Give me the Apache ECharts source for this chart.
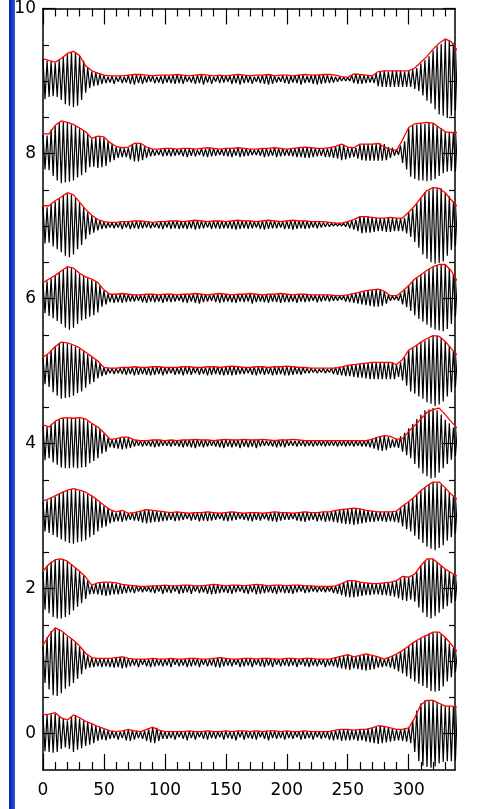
<!DOCTYPE html>
<html><head><meta charset="utf-8">
<script src="https://cdn.jsdelivr.net/npm/echarts@6/dist/echarts.min.js"></script>
<style>html,body{margin:0;padding:0;background:#fff;}#c{width:480px;height:809px;}</style>
</head><body><div id="c"></div>
<script>
const xMajorTicks = [0,50,100,150,200,250,300];
const xMinorTicks = [10,20,30,40,60,70,80,90,110,120,130,140,160,170,180,190,210,220,230,240,260,270,280,290,310,320,330];
const yMajorTicks = [0,2,4,6,8,10];
const yMinorTicks = [0.5,1,1.5,2.5,3,3.5,4.5,5,5.5,6.5,7,7.5,8.5,9,9.5];
const traceOffsets = [0,1,2.01,3.01,4.02,5.02,6.02,7.03,8.03,9.04];
const envStep = 5;
const sigStep = 5/3;

// red envelopes (hundredths of a y unit), sampled every 5 x units, trace 0 = bottom
const env0 = [26,27,29,22,19,26,22,17,14,10, 7,4,3,4,6,4,3,6,9,5, 3,3,3,3,4,3,3,4,3,3, 4,3,4,4,3,4,3,4,4,3, 4,3,3,4,3,3,3,3,5,6, 6,5,6,6,8,11,10,8,6,6, 8,22,40,46,46,42,38,38,37];
const env1 = [22,36,46,42,35,29,21,11,5,4, 4,4,5,6,4,3,3,3,4,3, 3,4,3,3,4,4,3,3,4,5, 4,3,3,4,4,3,4,4,3,3, 4,4,3,4,4,3,3,3,5,7, 9,6,8,10,8,6,3,6,10,15, 21,27,32,36,40,40,33,23,13];
const env2 = [23,33,39,40,37,30,23,15,4,7, 8,8,7,5,4,3,2,2,3,3, 4,3,3,4,4,3,3,4,5,4, 3,4,4,3,4,5,4,3,4,4, 3,4,4,3,3,2,2,2,3,6, 10,10,8,7,6,6,7,8,10,16, 15,19,31,40,40,33,26,21,16];
const env3 = [20,23,27,31,35,37,35,32,27,21, 14,8,5,7,3,4,6,8,7,6, 5,4,5,4,3,4,4,5,4,3, 4,5,4,3,4,4,3,4,5,4, 4,3,4,5,4,4,5,5,7,8, 9,10,9,7,6,5,5,5,6,13, 19,26,34,41,46,46,38,29,22];
const env4 = [24,21,29,33,34,33,34,32,26,21, 13,4,5,7,7,3,2,2,3,3, 2,3,2,3,3,4,3,3,2,3, 4,3,3,4,3,3,4,3,2,3, 3,4,3,2,2,2,2,2,2,2, 2,2,2,2,4,7,9,8,4,5, 15,23,32,41,45,47,38,28,19];
const env5 = [17,23,32,38,37,34,30,24,18,12, 3,2,2,3,3,4,3,3,4,4, 3,3,3,4,4,3,3,4,4,3, 4,5,4,3,3,4,4,3,4,4, 5,4,3,3,2,2,2,2,2,4, 6,7,8,9,10,10,10,10,7,14, 27,32,38,43,47,46,39,29,20];
const env6 = [20,25,30,36,42,40,33,28,25,20, 10,4,4,5,4,3,3,4,4,3, 4,4,3,4,4,5,4,3,4,5, 4,3,4,4,5,4,3,4,4,5, 4,3,4,4,3,3,3,3,2,2, 3,5,7,9,10,11,8,2,2,8, 16,25,31,37,42,45,45,36,22];
const env7 = [25,25,32,37,43,40,30,20,12,6, 3,2,2,3,3,4,4,3,2,3, 3,4,4,3,4,5,4,3,4,4, 3,4,5,4,4,3,4,5,4,3, 4,5,4,4,3,3,3,2,1,1, 3,6,10,10,9,8,8,9,8,8, 16,25,36,46,50,49,43,33,24];
const env8 = [24,24,36,42,40,37,32,27,18,21, 20,12,7,5,6,11,11,6,3,3, 4,4,3,4,4,3,4,5,4,3, 4,4,5,4,3,3,4,4,5,4, 3,4,5,6,5,4,4,5,7,10, 6,5,10,10,10,11,6,3,1,16, 33,38,39,40,39,33,27,26,26];
const env9 = [27,24,22,27,34,37,31,17,10,7, 4,3,3,3,4,5,5,4,3,4, 4,4,5,4,3,4,5,4,3,4, 3,4,5,4,3,4,4,5,3,4, 4,3,4,5,4,4,5,5,4,2, 1,6,5,4,3,9,10,10,10,10, 10,14,22,30,40,48,54,50,38];

// black signals (hundredths), sampled every 5/3 x units
const sig0 = [25,-24,26,-25,27,-26,28,-25,24,-21,21,-19,18,-21,24,-25,25,-22,21,-20,18,-17,16,-15,13,-13,11,-10,9,-8,
6,-9,5,-7,4,-6,3,-8,3,-6,4,-9,6,-10,5,-8,4,-6,3,-7,4,-10,6,-12,9,-13,8,-10,5,-7,
3,-7,2,-6,3,-8,3,-5,3,-7,3,-9,4,-6,3,-8,3,-5,3,-7,4,-8,4,-6,3,-7,3,-5,3,-8,
4,-6,3,-7,3,-9,4,-5,4,-8,4,-6,3,-7,4,-8,4,-5,3,-7,4,-9,4,-6,4,-7,3,-6,3,-8,
4,-6,3,-7,3,-5,3,-8,4,-7,3,-6,3,-8,3,-5,3,-7,3,-6,3,-8,4,-9,5,-8,6,-10,6,-9,
6,-9,5,-8,5,-10,6,-9,6,-11,7,-12,8,-13,10,-14,11,-13,10,-12,9,-11,7,-10,6,-9,6,-10,7,-11,
9,-13,18,-25,32,-38,42,-44,46,-46,46,-47,46,-45,43,-41,40,-39,38,-38,38,-38,37,-37,
37];
const sig1 = [21,-30,33,-39,42,-47,46,-48,44,-44,39,-38,34,-35,31,-30,26,-24,20,-18,14,-11,8,-9,5,-8,4,-7,4,-8,
4,-7,3,-8,4,-9,5,-8,6,-10,6,-9,4,-7,3,-6,3,-8,3,-5,3,-7,3,-8,4,-7,3,-6,3,-7,
3,-6,4,-8,4,-5,3,-7,3,-6,3,-8,4,-7,4,-6,4,-8,3,-5,3,-7,3,-6,4,-8,5,-9,5,-7,
4,-6,3,-7,3,-5,3,-8,4,-7,4,-6,4,-8,3,-5,3,-7,4,-8,4,-6,4,-8,4,-5,3,-7,3,-6,
4,-7,4,-6,4,-8,3,-5,4,-7,4,-8,4,-6,3,-7,3,-5,3,-8,3,-6,3,-7,5,-9,7,-10,7,-11,
9,-12,7,-10,6,-11,8,-12,10,-13,10,-12,8,-11,6,-9,5,-8,3,-7,5,-9,7,-11,10,-14,14,-17,17,-21,
21,-24,26,-28,28,-31,32,-34,35,-37,38,-41,40,-42,40,-41,37,-35,33,-28,24,-22,18,-15,
13];
const sig2 = [22,-30,31,-35,36,-40,39,-42,40,-42,39,-40,36,-37,32,-31,27,-26,22,-21,17,-15,10,-9,4,-8,6,-9,7,-10,
8,-11,7,-10,7,-9,6,-9,5,-8,4,-7,4,-6,3,-7,3,-5,2,-6,2,-5,2,-6,3,-7,3,-5,3,-8,
4,-6,3,-7,3,-5,3,-8,4,-7,4,-6,4,-8,3,-5,3,-7,3,-6,3,-8,4,-9,5,-8,5,-7,4,-6,
3,-7,4,-8,4,-6,4,-5,3,-7,3,-8,4,-6,4,-9,5,-8,5,-7,4,-6,3,-7,3,-8,4,-6,4,-7,
3,-7,4,-8,4,-6,4,-5,3,-7,3,-6,3,-5,2,-6,2,-5,2,-6,2,-5,2,-7,3,-8,5,-10,8,-12,
10,-13,10,-13,10,-12,8,-11,7,-10,7,-10,6,-9,6,-9,6,-10,7,-10,8,-11,8,-12,10,-14,13,-17,16,-18,
15,-16,17,-19,22,-27,31,-34,37,-40,40,-42,40,-39,36,-34,31,-29,26,-25,23,-21,19,-18,
16];
const sig3 = [19,-22,21,-24,25,-27,26,-30,30,-33,33,-36,34,-38,36,-39,36,-37,34,-36,32,-34,30,-30,26,-27,23,-22,18,-17,
13,-15,10,-11,6,-9,4,-8,6,-9,5,-7,3,-6,4,-7,5,-8,6,-10,8,-11,8,-10,7,-9,6,-9,5,-8,
5,-7,4,-6,4,-8,5,-7,4,-6,3,-5,3,-7,4,-6,4,-8,4,-7,5,-8,5,-7,4,-6,3,-5,3,-7,
4,-8,5,-7,5,-6,4,-5,3,-6,3,-7,4,-8,4,-6,4,-7,3,-5,3,-7,4,-8,5,-9,5,-7,4,-6,
4,-6,3,-5,3,-7,4,-8,5,-9,5,-7,4,-6,4,-8,4,-7,5,-9,5,-8,6,-9,7,-10,8,-11,9,-12,
9,-12,10,-13,10,-12,9,-11,8,-10,7,-9,6,-9,5,-8,5,-8,5,-9,5,-8,5,-9,6,-10,10,-15,15,-19,
19,-22,24,-28,29,-33,34,-38,39,-43,42,-46,46,-48,45,-45,42,-41,37,-35,32,-30,26,-25,
22];
const sig4 = [23,-25,21,-22,24,-28,28,-31,32,-35,33,-36,33,-36,33,-35,33,-36,33,-35,32,-34,29,-29,25,-26,22,-22,18,-16,
12,-13,6,-7,4,-8,5,-9,6,-10,7,-9,6,-8,4,-6,3,-5,2,-6,2,-5,2,-6,3,-7,3,-6,3,-5,
2,-5,2,-6,3,-5,2,-6,3,-7,3,-6,3,-7,4,-8,4,-6,3,-7,3,-6,3,-5,2,-6,3,-7,3,-8,
4,-6,3,-7,3,-6,3,-8,4,-6,3,-7,3,-6,4,-8,4,-6,3,-5,2,-5,2,-6,3,-7,3,-6,4,-7,
3,-5,2,-5,2,-6,2,-5,2,-6,2,-5,2,-6,2,-5,2,-5,2,-6,2,-5,2,-5,2,-6,2,-5,2,-6,
2,-5,2,-6,2,-5,2,-6,2,-6,3,-7,5,-9,7,-11,8,-12,9,-11,7,-8,4,-7,5,-8,8,-13,13,-18,
19,-22,25,-30,32,-36,38,-43,44,-47,45,-50,47,-49,44,-42,38,-36,31,-30,26,-24,20,-19,
19];
const sig5 = [16,-20,21,-24,27,-31,32,-36,37,-40,38,-39,36,-38,34,-36,32,-32,29,-30,26,-25,21,-20,17,-17,13,-12,8,-9,
3,-7,2,-5,2,-6,2,-5,2,-6,3,-7,3,-6,3,-8,4,-7,3,-6,3,-7,3,-8,4,-7,4,-6,4,-8,
3,-6,3,-5,3,-7,3,-6,4,-8,4,-6,4,-7,3,-5,3,-7,3,-6,3,-8,4,-7,4,-6,4,-7,3,-8,
4,-7,5,-8,5,-7,4,-6,3,-6,3,-5,3,-7,4,-8,4,-6,4,-7,3,-6,3,-8,4,-7,4,-6,4,-8,
5,-8,4,-7,4,-6,3,-7,3,-5,2,-5,2,-4,1,-5,1,-4,2,-5,1,-4,2,-6,3,-7,4,-8,5,-9,
6,-9,7,-10,7,-11,8,-11,9,-12,9,-13,10,-13,10,-13,10,-13,10,-13,10,-13,10,-13,7,-10,10,-15,17,-22,
27,-30,30,-33,34,-37,38,-40,40,-45,43,-47,47,-50,47,-48,44,-44,39,-37,33,-31,26,-24,
20];
const sig6 = [19,-22,22,-26,26,-29,30,-33,34,-37,38,-42,42,-45,40,-42,37,-37,32,-32,29,-30,26,-27,24,-25,21,-21,16,-13,
9,-10,5,-7,4,-8,3,-7,4,-8,5,-7,4,-6,3,-6,3,-5,3,-7,3,-8,4,-6,4,-7,3,-6,3,-8,
4,-6,4,-7,4,-6,3,-5,3,-7,4,-8,4,-6,4,-8,5,-9,4,-7,4,-6,3,-5,4,-7,4,-8,5,-7,
4,-6,3,-7,3,-8,4,-6,4,-7,4,-6,5,-9,4,-7,4,-6,3,-7,4,-8,4,-6,4,-7,4,-8,5,-7,
4,-7,3,-6,3,-8,4,-6,4,-7,4,-6,3,-5,3,-7,3,-6,3,-5,3,-6,3,-5,2,-5,2,-4,2,-6,
3,-7,5,-8,6,-9,7,-10,8,-11,9,-12,10,-13,11,-13,11,-12,8,-9,3,-5,2,-4,2,-5,5,-10,10,-14,
16,-19,22,-25,27,-30,31,-34,34,-38,39,-42,42,-45,44,-46,45,-47,45,-44,40,-37,32,-27,
22];
const sig7 = [24,-27,23,-26,28,-31,31,-35,35,-39,40,-44,42,-46,40,-42,36,-35,29,-29,23,-21,16,-15,11,-12,8,-9,5,-7,
3,-6,2,-5,2,-6,2,-5,3,-7,3,-5,3,-7,3,-6,4,-7,4,-6,3,-5,3,-6,2,-5,2,-6,3,-7,
3,-5,4,-7,4,-6,4,-7,3,-6,3,-7,4,-6,5,-8,5,-7,4,-6,3,-5,3,-7,4,-6,4,-7,4,-6,
3,-6,4,-7,4,-8,5,-7,4,-6,4,-7,4,-6,3,-5,3,-7,4,-8,5,-7,4,-6,4,-6,3,-5,3,-7,
4,-7,5,-8,5,-7,4,-6,4,-7,4,-6,3,-5,3,-6,3,-5,2,-4,2,-4,1,-3,1,-3,1,-3,1,-4,
3,-6,5,-8,6,-10,10,-13,10,-12,10,-12,9,-11,8,-10,8,-10,8,-11,9,-11,8,-10,8,-10,8,-10,8,-13,
16,-18,21,-25,28,-33,36,-42,44,-48,46,-53,50,-55,50,-54,49,-52,43,-44,38,-36,31,-30,
24];
const sig8 = [23,-25,22,-26,30,-34,35,-40,40,-44,41,-43,39,-42,37,-40,35,-36,31,-33,28,-29,24,-22,17,-21,20,-23,20,-22,
19,-20,14,-15,10,-12,6,-9,5,-8,4,-8,5,-11,10,-14,11,-14,10,-12,7,-9,5,-7,3,-6,2,-5,3,-7,
4,-6,3,-7,4,-6,3,-5,3,-7,4,-8,3,-6,4,-7,2,-5,4,-7,3,-8,5,-7,4,-6,3,-5,3,-6,
4,-7,4,-8,3,-6,5,-8,4,-7,4,-6,3,-5,2,-5,3,-6,4,-8,4,-7,3,-6,5,-8,4,-7,4,-6,
3,-6,4,-7,4,-8,5,-8,5,-9,6,-9,5,-8,4,-7,4,-6,4,-8,4,-8,5,-9,7,-10,9,-12,9,-11,
6,-9,5,-8,5,-10,9,-12,10,-13,10,-13,10,-13,10,-13,11,-13,10,-12,6,-9,5,-6,3,-5,8,-16,14,-25,
32,-35,36,-38,37,-40,39,-40,38,-41,40,-40,39,-38,35,-34,32,-30,27,-28,26,-27,26,-28,
26];
const sig9 = [26,-29,24,-26,23,-25,21,-26,25,-30,29,-36,33,-38,36,-40,36,-38,30,-30,24,-20,15,-14,9,-11,8,-10,6,-8,
4,-7,2,-6,3,-8,2,-5,3,-7,2,-6,4,-8,4,-9,5,-7,4,-8,3,-6,4,-5,3,-7,2,-6,3,-8,
4,-6,3,-7,4,-8,5,-7,4,-8,3,-5,2,-6,3,-8,4,-7,5,-9,3,-6,4,-8,2,-5,3,-7,4,-6,
3,-5,3,-8,4,-7,5,-9,4,-7,4,-6,3,-8,2,-5,3,-7,4,-8,5,-9,5,-8,3,-6,2,-5,4,-7,
3,-8,3,-6,4,-7,5,-9,4,-7,3,-6,4,-8,5,-9,5,-8,5,-7,4,-7,3,-6,2,-5,2,-4,1,-4,
1,-4,4,-7,6,-8,5,-8,4,-7,4,-6,3,-7,7,-11,9,-12,10,-12,9,-12,10,-12,10,-12,10,-12,9,-12,
10,-12,12,-15,14,-18,20,-24,25,-31,30,-35,38,-43,44,-50,47,-52,53,-55,52,-52,48,-45,
38];

const envs = [env0,env1,env2,env3,env4,env5,env6,env7,env8,env9];
const sigs = [sig0,sig1,sig2,sig3,sig4,sig5,sig6,sig7,sig8,sig9];

const FONT = 'DejaVu Sans';
const series = [];
sigs.forEach((s, i) => {
  series.push({
    type: 'line', xAxisIndex: 0, yAxisIndex: 0, showSymbol: false, silent: true, z: 2,
    lineStyle: { color: '#000', width: 1.2 },
    data: s.map((v, k) => [k * sigStep, traceOffsets[i] + v / 100])
  });
});
envs.forEach((e, i) => {
  series.push({
    type: 'line', xAxisIndex: 0, yAxisIndex: 0, showSymbol: false, silent: true, z: 3,
    lineStyle: { color: '#ff0000', width: 1.3 },
    data: e.map((v, j) => [j * envStep, traceOffsets[i] + v / 100])
  });
});

function xAx(pos, ticks, len, line, labels) {
  return {
    type: 'value', min: 0, max: 338, position: pos,
    axisLine: { show: line, onZero: false, lineStyle: { color: '#000', width: 1.5 } },
    axisTick: { show: true, inside: true, length: len, customValues: ticks, lineStyle: { color: '#000', width: 1.2 } },
    axisLabel: labels ? { show: true, customValues: ticks, fontSize: 17, fontFamily: FONT, color: '#000', margin: 12 } : { show: false },
    splitLine: { show: false }
  };
}
function yAx(pos, ticks, len, line, labels) {
  return {
    type: 'value', min: -0.5, max: 10, position: pos,
    axisLine: { show: line, onZero: false, lineStyle: { color: '#000', width: 1.5 } },
    axisTick: { show: true, inside: true, length: len, customValues: ticks, lineStyle: { color: '#000', width: 1.2 } },
    axisLabel: labels ? { show: true, customValues: ticks, fontSize: 17, fontFamily: FONT, color: '#000', margin: 7, padding: [5, 0, 0, 0] } : { show: false },
    splitLine: { show: false }
  };
}

const chart = echarts.init(document.getElementById('c'), null, { renderer: 'canvas' });
chart.setOption({
  animation: false,
  backgroundColor: '#fff',
  grid: { left: 43, right: 25, top: 3, bottom: 39, containLabel: false },
  xAxis: [
    xAx('bottom', xMajorTicks, 16, true, true),
    xAx('bottom', xMinorTicks, 8, false, false),
    xAx('top', xMajorTicks, 16, true, false),
    xAx('top', xMinorTicks, 8, false, false)
  ],
  yAxis: [
    yAx('left', yMajorTicks, 12, true, true),
    yAx('left', yMinorTicks, 6, false, false),
    yAx('right', yMajorTicks, 12, true, false),
    yAx('right', yMinorTicks, 6, false, false)
  ],
  graphic: [{
    type: 'rect', left: 9, top: 0, silent: true,
    shape: { width: 6, height: 809 },
    style: { fill: new echarts.graphic.LinearGradient(0, 0, 1, 0, [{ offset: 0, color: '#0a1fa8' }, { offset: 1, color: '#2a52e0' }]) }
  }],
  series: series
});
sigs.forEach((s, i) => { if (s.length !== 205) throw new Error('sig' + i + ' length ' + s.length); });
envs.forEach((e, i) => { if (e.length !== 69) throw new Error('env' + i + ' length ' + e.length); });
</script>
</body></html>
